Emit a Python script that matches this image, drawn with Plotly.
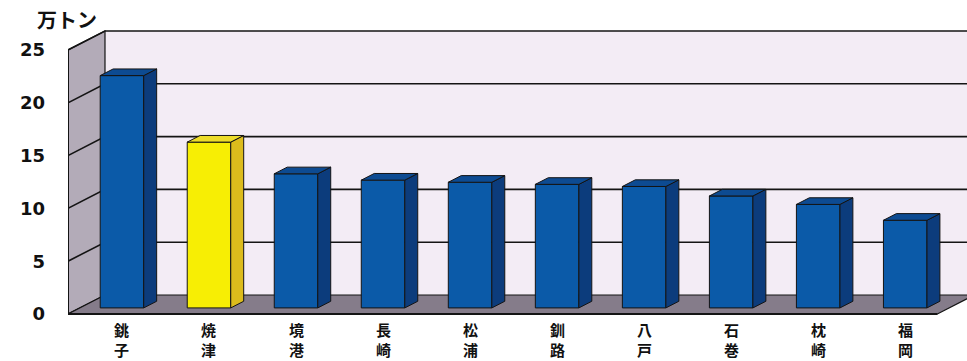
import plotly.graph_objects as go

# ---- data ----
ports = ["銚子", "焼津", "境港", "長崎", "松浦", "釧路", "八戸", "石巻", "枕崎", "福岡"]
values = [22.0, 15.7, 12.7, 12.1, 11.9, 11.7, 11.5, 10.6, 9.8, 8.3]
highlight = "焼津"
y_ticks = [0, 5, 10, 15, 20, 25]
unit_label = "万トン"

# ---- styling / pseudo-3D geometry (in axis units) ----
DX, DY = 0.425, 1.8          # full depth offset of the chart box
T1, T2 = 0.32, 0.67          # bar depth span (fraction of box depth)
BAR_W = 0.5
X0 = -0.62                   # front-left corner of floor
XR_FRONT = 9.37              # front-right corner of floor
XMAX = 9.71
YMIN, YMAX = -0.568, 27.84
YTOP = 25

BLUE = dict(front="#0b5aa8", side="#0c3c7c", top="#0d4b92")
YELLOW = dict(front="#f7ee04", side="#dcbc1c", top="#ecdc2a")
WALL_BACK = "#f3ecf5"
WALL_LEFT = "#b3abb8"
FLOOR = "#857c8a"
EDGE = "#141414"

fig = go.Figure()

def path(xs, ys, close=True):
    d = "M %f %f " % (xs[0], ys[0]) + " ".join("L %f %f" % (x, y) for x, y in zip(xs[1:], ys[1:]))
    return d + (" Z" if close else "")

def shape_poly(xs, ys, fill, lw=1.2, lc=EDGE):
    fig.add_shape(type="path", path=path(xs, ys), xref="x", yref="y", layer="below",
                  fillcolor=fill, line=dict(color=lc, width=lw))

def shape_line(xs, ys, lw=1.6, lc=EDGE):
    fig.add_shape(type="path", path=path(xs, ys, close=False), xref="x", yref="y",
                  layer="below", line=dict(color=lc, width=lw))

def poly(xs, ys, fill, lw=1, lc=EDGE):
    fig.add_trace(go.Scatter(x=xs + [xs[0]], y=ys + [ys[0]], mode="lines", fill="toself",
                             fillcolor=fill, line=dict(color=lc, width=lw),
                             hoverinfo="skip", showlegend=False))

# back wall
shape_poly([X0 + DX, X0 + DX, XMAX + 1, XMAX + 1], [DY, YTOP + DY, YTOP + DY, DY], WALL_BACK, lw=0)
# left wall
shape_poly([X0, X0, X0 + DX, X0 + DX], [0, YTOP, YTOP + DY, DY], WALL_LEFT)
# floor
shape_poly([X0, XR_FRONT, XR_FRONT + DX, X0 + DX], [0, 0, DY, DY], FLOOR)

# gridlines (left wall diagonal + back wall horizontal)
for v in y_ticks[1:]:
    shape_line([X0, X0 + DX, XMAX + 1], [v, v + DY, v + DY])
# front axis line and floor front edge
shape_line([X0, X0], [0, YTOP], lw=2)
shape_line([X0, XR_FRONT], [0, 0], lw=2)

# bars
b0 = T1 * DY
ddx, ddy = (T2 - T1) * DX, (T2 - T1) * DY
for i, (name, v) in enumerate(zip(ports, values)):
    c = YELLOW if name == highlight else BLUE
    xl, xr = i - BAR_W / 2, i + BAR_W / 2
    top = b0 + v
    # front face
    fig.add_trace(go.Bar(x=[i], y=[v], base=[b0], width=[BAR_W],
                         marker=dict(color=c["front"], line=dict(color=EDGE, width=1)),
                         hoverinfo="skip", showlegend=False))
    # side face
    poly([xr, xr, xr + ddx, xr + ddx], [b0, top, top + ddy, b0 + ddy], c["side"])
    # top face
    poly([xl, xr, xr + ddx, xl + ddx], [top, top, top + ddy, top + ddy], c["top"])

# category labels: one character per line, stacked vertically
LINE_Y = [-0.030, -0.097]
for i, name in enumerate(ports):
    for k, ch in enumerate(name):
        fig.add_annotation(text="<b>" + ch + "</b>", x=i, xref="x", y=LINE_Y[k], yref="paper",
                           xanchor="center", yanchor="middle", showarrow=False, borderpad=0,
                           font=dict(family="Noto Sans CJK JP", size=15, color="#111"))

fig.add_annotation(text="<b>" + unit_label + "</b>", xref="paper", yref="paper",
                   x=-0.036, y=1.003, xanchor="left", yanchor="middle", showarrow=False,
                   borderpad=0,
                   font=dict(family="Noto Sans CJK JP", size=20, color="#111"))

fig.update_layout(
    width=967, height=361,
    margin=dict(l=68, r=0, t=20, b=41),
    paper_bgcolor="white", plot_bgcolor="white",
    barmode="overlay",
    xaxis=dict(range=[X0, XMAX], showgrid=False, zeroline=False, showline=False,
               showticklabels=False, ticks=""),
    yaxis=dict(range=[YMIN, YMAX], showgrid=False, zeroline=False, showline=False,
               tickmode="array", tickvals=y_ticks,
               ticktext=["<b>%d</b>" % t for t in y_ticks], ticks="",
               ticklabelstandoff=22,
               tickfont=dict(family="DejaVu Sans", size=18, color="#111")),
)

fig.write_html("out.html")
